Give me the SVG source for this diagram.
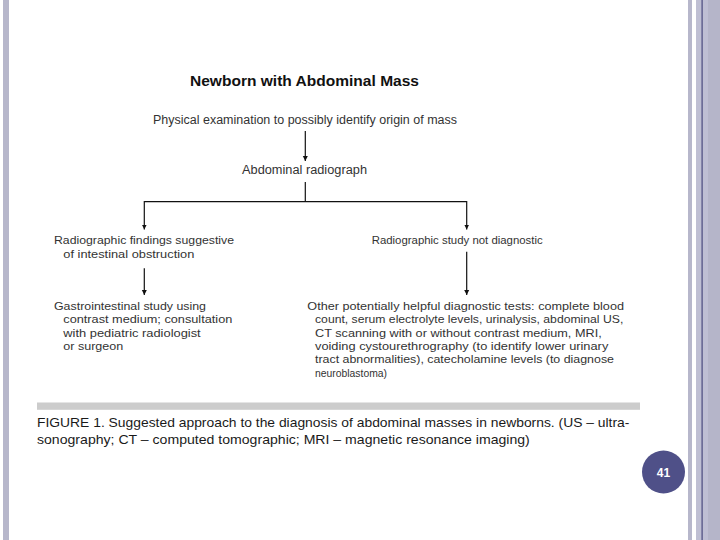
<svg xmlns="http://www.w3.org/2000/svg" width="720" height="540" viewBox="0 0 720 540">
<defs>
<style>
.node{font-family:"Liberation Sans",Arial,sans-serif;font-size:11.5px;fill:#333}
.title{font-family:"Liberation Sans",Arial,sans-serif;font-size:15px;font-weight:bold;fill:#111}
.cap{font-family:"Liberation Sans",Arial,sans-serif;font-size:13.5px;fill:#1a1a1a}
.conn{stroke:#111;stroke-width:1.2;fill:none}
.bar{fill:#b7b7cb}
</style>
<marker id="ah" viewBox="0 0 10 10" refX="10" refY="5" markerWidth="5" markerHeight="6" markerUnits="userSpaceOnUse" orient="auto">
<path d="M0,0 L10,5 L0,10 z" fill="#111"/>
</marker>
</defs>
<rect x="0" y="0" width="720" height="540" fill="#fff"/>
<g id="frame">
<rect class="bar" x="3" y="0" width="6" height="540"/>
<rect class="bar" x="688" y="0" width="4" height="540"/>
<rect x="696" y="0" width="12" height="540" fill="#bfbfd3"/>
<rect x="708" y="0" width="12" height="540" fill="#b5b5c9"/>
<rect x="701.5" y="0" width="1.2" height="540" fill="#4a4a7e"/>
</g>
<g id="title"><text class="title" x="190" y="86" textLength="229" lengthAdjust="spacingAndGlyphs">Newborn with Abdominal Mass</text></g>
<g id="physical"><text class="node" style="font-size:12.5px" x="153" y="124" textLength="304" lengthAdjust="spacingAndGlyphs">Physical examination to possibly identify origin of mass</text></g>
<g id="radiograph"><text class="node" style="font-size:12.5px" x="242" y="174" textLength="125" lengthAdjust="spacingAndGlyphs">Abdominal radiograph</text></g>
<g id="obstruction">
<text class="node" x="54" y="244.3" textLength="180" lengthAdjust="spacingAndGlyphs">Radiographic findings suggestive</text>
<text class="node" x="63.3" y="257.6" textLength="131" lengthAdjust="spacingAndGlyphs">of intestinal obstruction</text>
</g>
<g id="notdiag"><text class="node" x="371.7" y="244.3" textLength="171" lengthAdjust="spacingAndGlyphs">Radiographic study not diagnostic</text></g>
<g id="gistudy">
<text class="node" x="54" y="310" textLength="152" lengthAdjust="spacingAndGlyphs">Gastrointestinal study using</text>
<text class="node" x="63.3" y="323.3" textLength="169" lengthAdjust="spacingAndGlyphs">contrast medium; consultation</text>
<text class="node" x="63.3" y="336.6" textLength="137.4" lengthAdjust="spacingAndGlyphs">with pediatric radiologist</text>
<text class="node" x="63.3" y="349.9" textLength="60" lengthAdjust="spacingAndGlyphs">or surgeon</text>
</g>
<g id="othertests">
<text class="node" x="307.3" y="310" textLength="316.7" lengthAdjust="spacingAndGlyphs">Other potentially helpful diagnostic tests: complete blood</text>
<text class="node" x="315" y="323.3" textLength="308.3" lengthAdjust="spacingAndGlyphs">count, serum electrolyte levels, urinalysis, abdominal US,</text>
<text class="node" x="315" y="336.6" textLength="286.7" lengthAdjust="spacingAndGlyphs">CT scanning with or without contrast medium, MRI,</text>
<text class="node" x="315" y="349.9" textLength="293.3" lengthAdjust="spacingAndGlyphs">voiding cystourethrography (to identify lower urinary</text>
<text class="node" x="315" y="363.2" textLength="299" lengthAdjust="spacingAndGlyphs">tract abnormalities), catecholamine levels (to diagnose</text>
<text class="node" x="315" y="376.5" textLength="72" lengthAdjust="spacingAndGlyphs">neuroblastoma)</text>
</g>
<g id="connectors">
<line class="conn" x1="305.3" y1="131" x2="305.3" y2="161" marker-end="url(#ah)"/>
<line class="conn" x1="305.3" y1="182" x2="305.3" y2="201.7"/>
<line class="conn" x1="144.3" y1="201.7" x2="466.7" y2="201.7"/>
<line class="conn" x1="144.3" y1="201.1" x2="144.3" y2="229.5" marker-end="url(#ah)"/>
<line class="conn" x1="466.7" y1="201.1" x2="466.7" y2="229.5" marker-end="url(#ah)"/>
<line class="conn" x1="144.3" y1="268.3" x2="144.3" y2="295" marker-end="url(#ah)"/>
<line class="conn" x1="466.7" y1="251.7" x2="466.7" y2="295" marker-end="url(#ah)"/>
</g>
<g id="caption">
<rect x="37" y="402.5" width="603" height="7.3" fill="#cccccc"/>
<text class="cap" x="37" y="427" textLength="592.4" lengthAdjust="spacingAndGlyphs">FIGURE 1. Suggested approach to the diagnosis of abdominal masses in newborns. (US – ultra-</text>
<text class="cap" x="37" y="444" textLength="492.8" lengthAdjust="spacingAndGlyphs">sonography; CT – computed tomographic; MRI – magnetic resonance imaging)</text>
</g>
<g id="pagenum">
<circle cx="663.5" cy="472" r="21.5" fill="#4f5088"/>
<text x="663.5" y="476.5" text-anchor="middle" font-family="'Liberation Sans',Arial,sans-serif" font-size="12" font-weight="bold" fill="#fff">41</text>
</g>
</svg>
